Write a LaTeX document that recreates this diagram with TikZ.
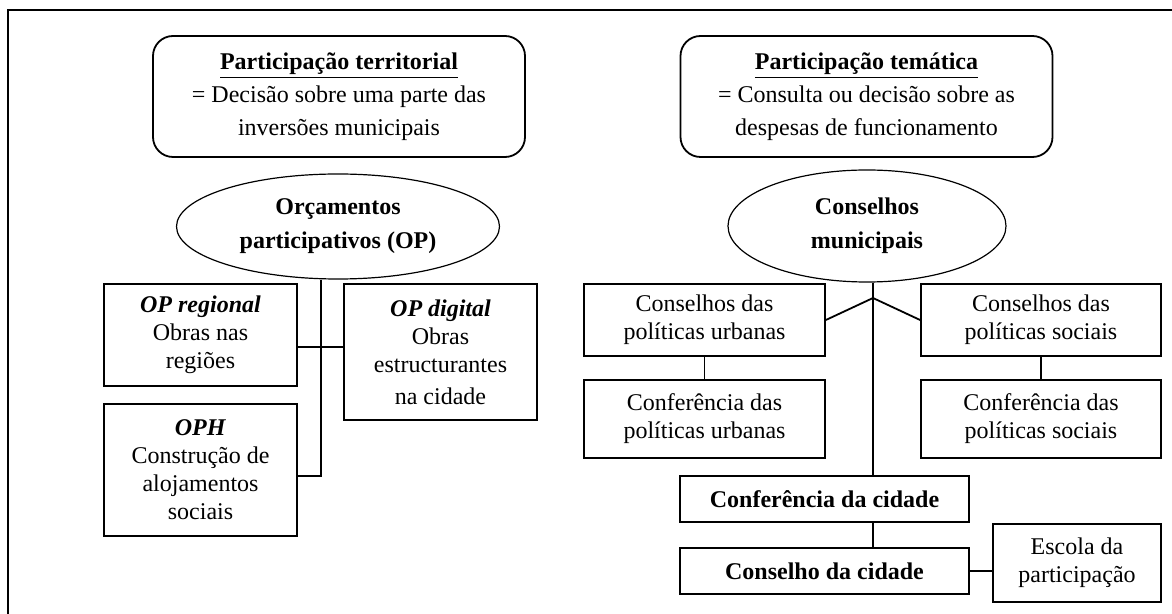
\documentclass[tikz,border=0pt]{standalone}
\usepackage{fontspec}
\setmainfont{Liberation Serif}
\usetikzlibrary{shapes}

\begin{document}
\begin{tikzpicture}[x=0.5pt, y=-0.5pt, line width=0.9pt,
		    every node/.style={draw=black, align=center, inner sep=0pt, font=\fontsize{12pt}{14pt}\selectfont},
		    top box/.style={rectangle, rounded corners=10pt, minimum width=186pt, minimum height=60.5pt, font=\fontsize{12pt}{16.5pt}\selectfont},
		    oval/.style={ellipse, line width=0.6pt, font=\bfseries\fontsize{12pt}{17pt}\selectfont},
		    box/.style n args={2}{rectangle, minimum width=#1, minimum height=#2}]

\useasboundingbox (0,0) rectangle (1172,614);
\clip (0,0) rectangle (1172,614);
\draw (8,10) rectangle (1200,650);

\node[top box] (terr) at (339,96.5) {\underline{\textbf{Participação territorial}}\\= Decisão sobre uma parte das\\inversões municipais};
\node[top box] (tem) at (866.5,96.5) {\underline{\textbf{Participação temática}}\\= Consulta ou decisão sobre as\\despesas de funcionamento};

\node[oval, minimum width=161.5pt, minimum height=52.5pt] (op) at (338,226.5) {Orçamentos\\participativos (OP)};
\node[oval, minimum width=139pt, minimum height=56pt] (cm) at (867,226) {Conselhos\\municipais};

\node[box={96.5pt}{51pt}] (opreg) at (200.5,335) {\textbf{\textit{OP regional}}\\Obras nas\\regiões};
\node[box={96.5pt}{68pt}] (opdig) at (440.5,352) {\textbf{\textit{OP digital}}\\Obras\\estructurantes\\[2pt]na cidade};
\node[box={96.5pt}{66pt}] (oph) at (200.5,470) {\textbf{\textit{OPH}}\\Construção de\\alojamentos\\sociais};

\node[box={120.5pt}{36pt}] (csu) at (704.5,320) {Conselhos das\\políticas urbanas};
\node[box={120pt}{36pt}] (css) at (1041,320) {Conselhos das\\políticas sociais};
\node[box={120.5pt}{39pt}] (cfu) at (704.5,419) {Conferência das\\políticas urbanas};
\node[box={120pt}{39pt}] (cfs) at (1041,419) {Conferência das\\políticas sociais};
\node[box={144.5pt}{23pt}, font=\bfseries\fontsize{12pt}{14pt}\selectfont] (cfc) at (824.5,499) {Conferência da cidade};
\node[box={144.5pt}{23pt}, font=\bfseries\fontsize{12pt}{14pt}\selectfont] (ccd) at (824.5,571) {Conselho da cidade};
\node[box={84pt}{39pt}] (esc) at (1077,563) {Escola da\\participação};

\coordinate (ja) at (321,347);
\coordinate (jb) at (321,476);
\coordinate (jc) at (873,298);

\draw (op.south -| ja) -- (jb) -- (oph.east |- jb);
\draw (opreg.east |- ja) -- (opdig.west |- ja);
\draw (cm.south -| jc) -- (cfc.north -| jc);
\draw (csu.east) -- (jc) -- (css.west);
\draw (csu) -- (cfu);
\draw (css) -- (cfs);
\draw (cfc.south -| jc) -- (ccd.north -| jc);
\draw (ccd.east) -- (ccd.east -| esc.west);
\end{tikzpicture}
\end{document}
